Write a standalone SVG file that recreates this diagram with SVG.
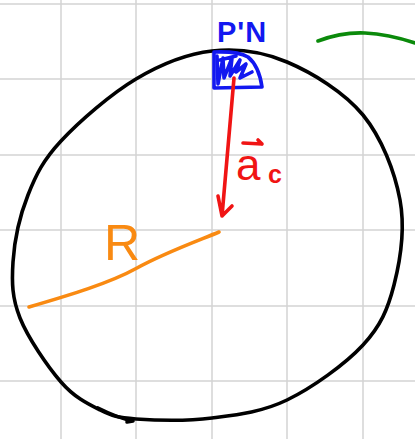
<svg xmlns="http://www.w3.org/2000/svg" width="415" height="439" viewBox="0 0 415 439">
<style>
.grid{stroke:#d4d4d4;stroke-width:1.5;fill:none}
.ink{fill:none;stroke-width:3.6;stroke-linecap:round;stroke-linejoin:round}
.hand{font-family:"Liberation Sans","DejaVu Sans",sans-serif}
</style>
<rect width="415" height="439" fill="#ffffff"/>
<g id="grid" class="grid">
<path d="M61 0V439M136 0V439M212 0V439M287 0V439M363 0V439M0 4H415M0 79H415M0 155H415M0 230H415M0 306H415M0 381H415"/>
</g>
<g id="circle">
<path class="ink" stroke="#000" d="M13,262 C14.3,241.5 20,215.2 28,195 C36,174.8 43,160.3 61,141 C79,121.7 110.8,94 136,79 C161.2,64 186.8,53.8 212,51 C237.2,48.2 261.8,51.3 287,62 C312.2,72.7 344.2,92 363,115 C381.8,138 394.8,171.7 400,200 C405.2,228.3 400.2,260.8 394,285 C387.8,309.2 380.8,325.8 363,345 C345.2,364.2 312.2,387.8 287,400 C261.8,412.2 237.2,414.8 212,418 C186.8,421.2 154.7,420.3 136,419 C117.3,417.7 112.5,416.2 100,410 C87.5,403.8 74.3,397.3 61,382 C47.7,366.7 28,338 20,318 C12,298 11.7,282.5 13,262 Z"/>
<path class="ink" stroke="#000" stroke-width="2.5" d="M98,408 C110,414 122,419 133,421 L127,422"/>
</g>
<g id="green-arc">
<path class="ink" stroke="#0b8a0b" d="M318,41 Q342,32 365,33 T415,43"/>
</g>
<g id="block">
<path class="ink" stroke="#1218f0" d="M214,52 L214,88 L262,87 Q259,66 248,57 Q238,51 214,52 Z"/>
<path class="ink" stroke="#1218f0" stroke-width="3" d="M217,56 L218,84 L223,58 L224,78 L232,58 L230,76 L240,60 L236,72 L246,64 L240,78 L252,72 M220,60 L236,56"/>
<text class="hand" x="217" y="42" font-size="29" font-weight="bold" letter-spacing="1" fill="#1218f0">P'N</text>
</g>
<g id="connectors">
<path class="ink" stroke="#f01414" d="M234,78 L222,216 M218,196 L222,216 L232,206"/>
<path class="ink" stroke="#f01414" stroke-width="2.8" d="M243,143 L262,144 M258,140 L262,144"/>
<path class="ink" stroke="#f98a12" d="M29,307 C70,295 110,283 137,268 S200,240 219,232"/>
</g>
<g id="labels">
<text class="hand" x="236" y="180" font-size="44" fill="#f01414">a</text>
<text class="hand" x="268" y="183" font-size="25" font-weight="bold" fill="#f01414">c</text>
<text class="hand" x="104" y="260" font-size="50" fill="#f98a12">R</text>
</g>
</svg>
